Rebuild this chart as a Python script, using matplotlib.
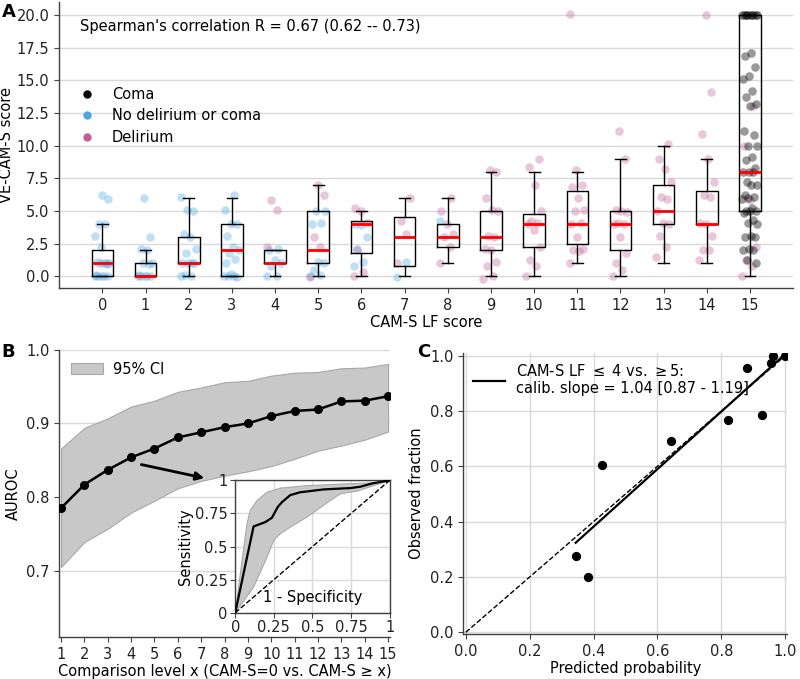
import numpy as np
import matplotlib
matplotlib.use("Agg")
import matplotlib.pyplot as plt
from matplotlib.lines import Line2D

# ---------------- data ----------------
# Panel A: CAM-S LF score (0..15) vs VE-CAM-S score
cams_levels = list(range(16))

# box statistics
box_med = [1, 0, 1, 2, 1, 2, 4, 3, 3, 3, 4, 4, 4, 5, 4, 8]
box_q1 = [0, 0, 1, 0, 1, 1, 1.8, 0.75, 2.25, 2, 2.25, 2.5, 2, 4, 4, 5]
box_q3 = [2, 1, 3, 4, 2, 5, 4.2, 4.5, 4, 5, 4.75, 6.5, 5, 7, 6.5, 20]
box_wlo = [0, 0, 0, 0, 0, 0, 0, 0, 1, 0, 0, 1, 0, 1, 1, 0]
box_whi = [4, 2, 6, 6, 2, 7, 5, 6, 6, 8, 8, 8, 9, 10, 9, 20]

# individual patients, per CAM-S LF level
nodel_pts = [
    [0, 0, 0, 0, 0, 0.1, 1, 1, 1, 1, 1.1, 0.9, 2.2, 3.1, 4, 4, 5.9, 6.2],
    [0, 0, 0, 0, 0, 0.1, 0.9, 1, 1, 2, 2.1, 3.0, 6.0],
    [0, 0, 0.1, 1, 1, 1, 1, 1.8, 2.1, 3, 3.2, 5, 5.1, 6.1],
    [0, 0, 0, -0.1, 0.2, 1, 1.3, 1.8, 2, 2.2, 3.1, 4, 4, 5.1, 6.2],
    [0, 0, 0.8, 1, 1.2, 2, 2.1],
    [0, 0.1, 0.5, 1, 1.1, 4, 4.1, 5, 5],
    [0.8, 1.1, 2.1, 3, 3.9, 4],
    [-0.1, 1.1],
    [4.2],
    [], [], [], [], [], [], [],
]
delir_pts = [
    [], [], [], [],
    [2.2, 5.1, 5.8],
    [-0.1, 2.2, 3, 6.2, 7],
    [0, 0.3, 2, 4.1, 5, 5.2],
    [1, 3.2, 4.2, 6],
    [1, 2.2, 3, 3.2, 4, 5, 6],
    [-0.2, 0, 0.8, 1.1, 2, 2.1, 3, 3.1, 5, 5.1, 6, 8, 8.1],
    [0, 0.8, 1.2, 2.2, 3.5, 4, 4.1, 4.2, 5, 7, 8.4, 9],
    [1, 1.9, 2, 2.1, 3, 4, 4.1, 5, 5.1, 6, 6.8, 7, 8.1, 20.1],
    [0, 0.5, 1, 1.8, 3, 4, 4, 4.1, 4.9, 5, 5.1, 9, 11.1],
    [1.5, 2.2, 3.1, 4, 4.1, 5, 5.9, 6.1, 7.2, 8.2, 9, 10.1],
    [1.2, 2, 2, 3.1, 4, 4.1, 6.1, 6.2, 7.2, 9, 10.9, 14.1, 20],
    [0, 0.8, 1.2, 2.2, 5.8, 10, 13, 20],
]
coma_pts = [[] for _ in range(15)] + [[
    20, 20, 20, 20, 20, 20, 20, 20, 20,
    17.1, 16.9, 16.0, 15.3, 15.1, 14.2, 13.7, 13.2, 13.0, 11.1, 10.8,
    10.0, 10.0, 9.1, 8.9, 8.3, 8.0, 8.0, 8.0, 7.2, 7.0, 7.0, 6.2, 6.1,
    6.0, 5.9, 5.2, 5.0, 5.0, 5.0, 4.8, 4.3, 4.1, 4.0, 3.1, 3.0, 3.0,
    2.1, 2.0, 2.0, 1.2, 1.0,
]]

# Panel B: AUROC per comparison level
comp_level = list(range(1, 16))
auroc = [0.785, 0.817, 0.837, 0.854, 0.866, 0.881, 0.888, 0.895, 0.900,
         0.910, 0.917, 0.919, 0.930, 0.931, 0.937]
auroc_hi = [0.866, 0.894, 0.907, 0.923, 0.931, 0.943, 0.949, 0.956, 0.958,
            0.965, 0.969, 0.970, 0.975, 0.976, 0.981]
auroc_lo = [0.705, 0.739, 0.757, 0.779, 0.795, 0.812, 0.822, 0.829, 0.835,
            0.842, 0.852, 0.863, 0.870, 0.878, 0.889]

# inset ROC curve
roc_fpr = [0, 0.119, 0.195, 0.238, 0.275, 0.303, 0.357, 0.42, 0.574, 0.747,
           0.81, 0.887, 1.0]
roc_tpr = [0, 0.652, 0.685, 0.718, 0.798, 0.836, 0.889, 0.91, 0.932, 0.942,
           0.952, 0.977, 1.0]
roc_hi_fpr = [0, 0.076, 0.097, 0.141, 0.206, 0.292, 0.465, 0.682, 0.898, 1.0]
roc_hi_tpr = [0, 0.672, 0.773, 0.848, 0.91, 0.942, 0.96, 0.972, 0.982, 1.0]
roc_lo_fpr = [0, 0.01, 0.119, 0.206, 0.249, 0.292, 0.357, 0.465, 0.617, 0.682,
              0.79, 1.0]
roc_lo_tpr = [0, 0.017, 0.194, 0.42, 0.547, 0.597, 0.647, 0.723, 0.849, 0.899,
              0.919, 1.0]

# Panel C: calibration
pred_prob = [0.344, 0.382, 0.427, 0.641, 0.822, 0.881, 0.927, 0.955, 0.962, 1.0]
obs_frac = [0.275, 0.200, 0.605, 0.690, 0.766, 0.957, 0.787, 0.973, 1.0, 1.0]
calib_slope = 1.04
calib_icpt = -0.034

# ---------------- style ----------------
FS = 10.5
plt.rcParams.update({
    "font.size": FS,
    "axes.edgecolor": "#404040",
    "axes.linewidth": 1.0,
    "xtick.color": "#404040",
    "ytick.color": "#404040",
    "xtick.labelcolor": "#222222",
    "ytick.labelcolor": "#222222",
})
GRID = "#d9d9d9"
BLUE = "#4aa8e0"
PINK = "#c0609a"

fig = plt.figure(figsize=(8, 6.79), dpi=100)

# ---- panel A ----
axA = fig.add_axes([0.074, 0.576, 0.9175, 0.421])
stats = []
for i in cams_levels:
    stats.append(dict(med=box_med[i], q1=box_q1[i], q3=box_q3[i],
                      whislo=box_wlo[i], whishi=box_whi[i], fliers=[]))
axA.bxp(stats, positions=cams_levels, widths=0.5, showfliers=False,
        boxprops=dict(color="black", lw=1),
        whiskerprops=dict(color="black", lw=1),
        capprops=dict(color="black", lw=1),
        medianprops=dict(color="red", lw=2),
        zorder=3)

def jitter(n):
    # deterministic horizontal spread
    return ((np.arange(n) * 0.6180339) % 1.0 - 0.5) * 0.36

for groups, col, alpha in [(nodel_pts, BLUE, 0.35), (delir_pts, PINK, 0.35),
                           (coma_pts, "black", 0.4)]:
    for lvl, vals in zip(cams_levels, groups):
        if not vals:
            continue
        axA.scatter(lvl + jitter(len(vals)), vals, s=38, color=col,
                    alpha=alpha, lw=0, zorder=2)

axA.set_xlim(-1, 16)
axA.set_ylim(-0.9, 21)
axA.set_xticks(cams_levels)
axA.set_yticks(np.arange(0, 20.1, 2.5))
axA.yaxis.grid(True, color=GRID, lw=1)
axA.set_axisbelow(True)
for s in ["top", "right"]:
    axA.spines[s].set_visible(False)
axA.set_xlabel("CAM-S LF score", fontsize=FS, labelpad=2)
axA.set_ylabel("VE-CAM-S score", fontsize=FS, labelpad=2)
axA.text(0.028, 0.9, "Spearman's correlation R = 0.67 (0.62 -- 0.73)",
         transform=axA.transAxes, fontsize=FS)
legA = [
    Line2D([], [], marker="o", ls="", color="black", ms=5, label="Coma"),
    Line2D([], [], marker="o", ls="", color=BLUE, ms=5,
           label="No delirium or coma"),
    Line2D([], [], marker="o", ls="", color=PINK, ms=5, label="Delirium"),
]
axA.legend(handles=legA, loc="upper left", bbox_to_anchor=(0.0, 0.75),
           frameon=False, fontsize=FS, handletextpad=0.7, labelspacing=0.45)

# ---- panel B ----
axB = fig.add_axes([0.074, 0.062, 0.414, 0.4227])
axB.fill_between(comp_level, auroc_lo, auroc_hi, color="#c8c8c8",
                 edgecolor="#a8a8a8", lw=0.8, label="95% CI", zorder=1)
axB.plot(comp_level, auroc, color="black", lw=1.8, marker="o", ms=5.5,
         zorder=3)
axB.set_xlim(0.92, 15.1)
axB.set_ylim(0.61, 1.0)
axB.set_xticks(comp_level)
axB.set_yticks([0.7, 0.8, 0.9, 1.0])
axB.yaxis.grid(True, color=GRID, lw=1)
axB.set_axisbelow(True)
for s in ["top", "right"]:
    axB.spines[s].set_visible(False)
axB.set_ylabel("AUROC", fontsize=FS)
axB.set_xlabel("Comparison level x (CAM-S=0 vs. CAM-S \u2265 x)", fontsize=FS,
               labelpad=2)
axB.legend(loc="upper left", frameon=False, fontsize=FS,
           handlelength=2.2, handletextpad=0.7, borderaxespad=0.4)
axB.annotate("", xy=(7.25, 0.825), xytext=(4.32, 0.845),
             arrowprops=dict(arrowstyle="-|>", color="black", lw=2,
                             mutation_scale=12), zorder=4)

# inset ROC
axI = fig.add_axes([0.294, 0.0975, 0.193, 0.195])
axI.fill(np.concatenate([roc_hi_fpr, roc_lo_fpr[::-1]]),
         np.concatenate([roc_hi_tpr, roc_lo_tpr[::-1]]),
         color="#c8c8c8", edgecolor="#a8a8a8", lw=0.8, zorder=1)
axI.plot(roc_fpr, roc_tpr, color="black", lw=1.6, zorder=3)
axI.plot([0, 1], [0, 1], color="black", lw=1, ls="--", zorder=2)
axI.set_xlim(0, 1)
axI.set_ylim(0, 1)
ticks = [0, 0.25, 0.5, 0.75, 1]
labs = ["0", "0.25", "0.5", "0.75", "1"]
axI.set_xticks(ticks)
axI.set_xticklabels(labs)
axI.set_yticks(ticks)
axI.set_yticklabels(labs)
axI.tick_params(labelsize=FS, pad=2)
axI.grid(True, color=GRID, lw=1)
axI.set_axisbelow(True)
axI.set_ylabel("Sensitivity", fontsize=FS, labelpad=1)
axI.text(0.5, 0.06, "1 - Specificity", transform=axI.transAxes,
         ha="center", va="bottom", fontsize=FS, zorder=5)

# ---- panel C ----
axC = fig.add_axes([0.579, 0.0663, 0.405, 0.414])
axC.plot([0, 1], [0, 1], color="black", lw=1, ls="--", zorder=2)
fit_x = np.array([min(pred_prob), 0.99])
axC.plot(fit_x, calib_icpt + calib_slope * fit_x, color="black", lw=1.6,
         zorder=3,
         label="CAM-S LF $\\leq$ 4 vs. $\\geq$5:\ncalib. slope = 1.04 [0.87 - 1.19]")
axC.scatter(pred_prob, obs_frac, s=32, color="black", zorder=4)
axC.set_xlim(-0.008, 1.006)
axC.set_ylim(-0.006, 1.01)
axC.set_xticks(np.arange(0, 1.01, 0.2))
axC.set_yticks(np.arange(0, 1.01, 0.2))
axC.grid(True, color=GRID, lw=1)
axC.set_axisbelow(True)
for s in ["top", "right"]:
    axC.spines[s].set_visible(False)
axC.set_xlabel("Predicted probability", fontsize=FS, labelpad=2)
axC.set_ylabel("Observed fraction", fontsize=FS)
axC.legend(loc="upper left", frameon=False, fontsize=FS, handlelength=2.2,
           handletextpad=0.7, borderaxespad=0.3)

# panel letters
fig.text(0.002, 0.995, "A", fontsize=13, fontweight="bold", va="top")
fig.text(0.002, 0.495, "B", fontsize=13, fontweight="bold", va="top")
fig.text(0.522, 0.495, "C", fontsize=13, fontweight="bold", va="top")

fig.savefig("out.png", dpi=100)
